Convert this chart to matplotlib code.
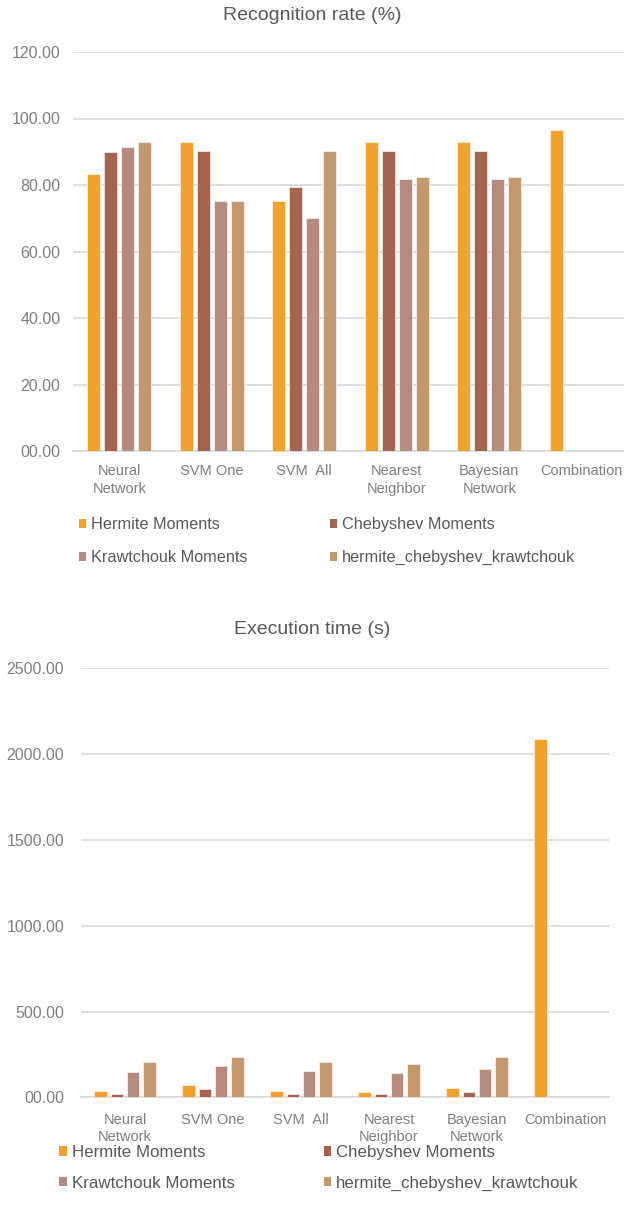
import numpy as np
import matplotlib
matplotlib.use("Agg")
import matplotlib.pyplot as plt
from matplotlib.patches import Patch

plt.rcParams['font.family'] = ['Liberation Sans', 'DejaVu Sans']

categories = ["Neural\nNetwork", "SVM One", "SVM  All", "Nearest\nNeighbor", "Bayesian\nNetwork", "Combination"]
series_names = ["Hermite Moments", "Chebyshev Moments", "Krawtchouk Moments", "hermite_chebyshev_krawtchouk"]
colors = ["#F0A22E", "#A5644E", "#B58B80", "#C3986D"]

rate_hermite = [83.2, 93.0, 75.3, 93.0, 93.0, 96.4]
rate_chebyshev = [89.8, 90.2, 79.3, 90.2, 90.2, np.nan]
rate_krawtchouk = [91.4, 75.3, 70.1, 81.8, 81.8, np.nan]
rate_combined = [93.0, 75.3, 90.2, 82.3, 82.3, np.nan]

time_hermite = [38, 73, 38, 31, 54, 2090]
time_chebyshev = [17, 48, 17, 17, 33, np.nan]
time_krawtchouk = [145, 182, 151, 141, 166, np.nan]
time_combined = [203, 232, 203, 192, 232, np.nan]

rate_ticks = [0, 20, 40, 60, 80, 100, 120]
time_ticks = [0, 500, 1000, 1500, 2000, 2500]

W, H = 624, 1226
fig = plt.figure(figsize=(W / 100, H / 100), dpi=100)

TXT = "#595959"
TICK = "#7F7F7F"
GRID = "#D9D9D9"


def make_axes(left, right, top, bottom):
    return fig.add_axes([left / W, 1 - bottom / H, (right - left) / W, (bottom - top) / H])


def draw(ax, data, ticks, ypad, xls, xpad):
    x = np.arange(len(categories))
    pitch = 0.184
    for i, (vals, c) in enumerate(zip(data, colors)):
        ax.bar(x + (i - 1.5) * pitch, vals, width=0.145, color=c,
               edgecolor="white", linewidth=0.4, zorder=3)
    ax.set_xlim(-0.5, len(categories) - 0.5)
    ax.set_ylim(ticks[0], ticks[-1])
    ax.set_yticks(ticks)
    ax.set_yticklabels(["%05.2f" % t for t in ticks])
    ax.set_xticks(x)
    ax.set_xticklabels(categories, linespacing=xls)
    ax.yaxis.grid(True, color=GRID, linewidth=1.2, zorder=0)
    for s in ["left", "right", "top"]:
        ax.spines[s].set_visible(False)
    ax.spines["bottom"].set_color(GRID)
    ax.spines["bottom"].set_linewidth(1.2)
    ax.tick_params(axis="y", length=0, labelsize=11.5, labelcolor=TICK, pad=ypad)
    ax.tick_params(axis="x", length=0, labelsize=10.5, labelcolor=TICK, pad=xpad)


ax1 = make_axes(73, 628, 52, 451)
draw(ax1, [rate_hermite, rate_chebyshev, rate_krawtchouk, rate_combined], rate_ticks, 9, 1.45, 9)

ax2 = make_axes(81, 609, 668.3, 1097.3)
draw(ax2, [time_hermite, time_chebyshev, time_krawtchouk, time_combined], time_ticks, 12, 1.3, 11)

fig.text(312 / W, 1 - 15 / H, "Recognition rate (%)", ha="center", va="center",
         fontsize=14, color=TXT)
fig.text(312 / W, 1 - 630 / H, "Execution time (s)", ha="center", va="center",
         fontsize=14, color=TXT)

handles = [Patch(facecolor=c, edgecolor="none") for c in colors]
order = [0, 2, 1, 3]


def legend(x, y, fs, colsp, lsp):
    fig.legend([handles[i] for i in order], [series_names[i] for i in order],
               loc="upper left", bbox_to_anchor=(x / W, 1 - y / H),
               ncol=2, frameon=False, fontsize=fs, labelcolor=TXT,
               handlelength=0.45, handleheight=0.45, handletextpad=0.3,
               columnspacing=colsp, labelspacing=lsp, borderaxespad=0, borderpad=0)


legend(79, 517, 11.7, 5.05, 1.12)
legend(59, 1145, 12.2, 5.25, 0.92)

fig.savefig("out.png", dpi=100)
